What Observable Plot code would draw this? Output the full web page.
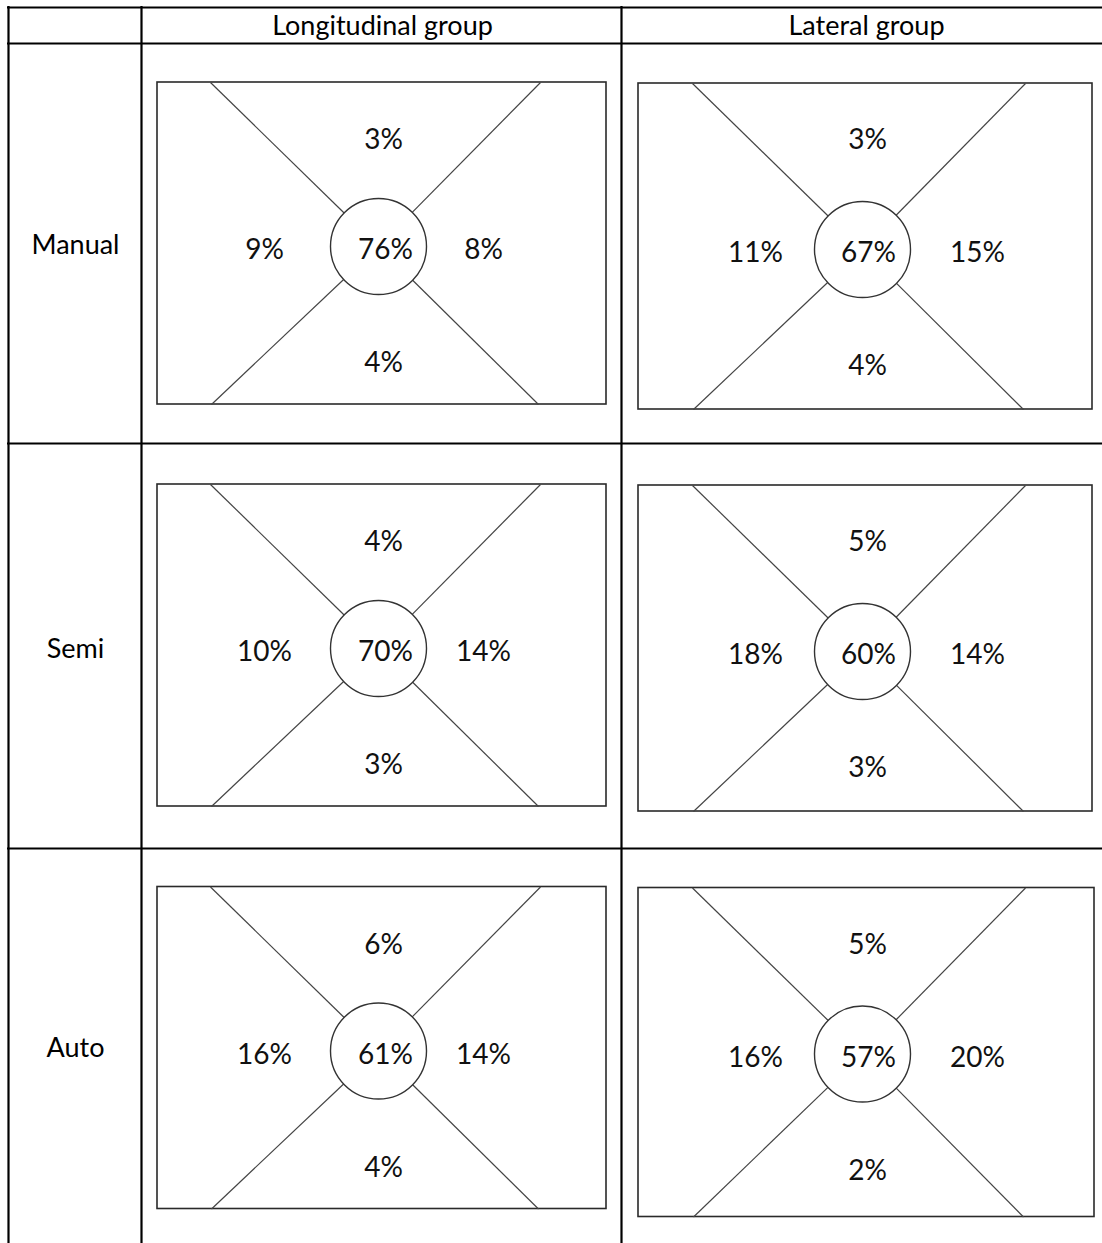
<!DOCTYPE html>
<html>
<head>
<meta charset="utf-8">
<script src="https://cdn.jsdelivr.net/npm/d3@7"></script>
<script src="https://cdn.jsdelivr.net/npm/@observablehq/plot@0.6"></script>
<style>
  html, body { margin: 0; padding: 0; background: #fff; }
  #chart svg { display: block; }
</style>
</head>
<body>
<div id="chart"></div>
<script>
// ---- data ----
const rows = ["Manual", "Semi", "Auto"];
const groups = ["Longitudinal group", "Lateral group"];
const positions = ["top", "left", "center", "right", "bottom"];

const longTop    = [3, 4, 6];
const longLeft   = [9, 10, 16];
const longCenter = [76, 70, 61];
const longRight  = [8, 14, 14];
const longBottom = [4, 3, 4];

const latTop    = [3, 5, 5];
const latLeft   = [11, 18, 16];
const latCenter = [67, 60, 57];
const latRight  = [15, 14, 20];
const latBottom = [4, 3, 2];

// ---- layout (pixels) ----
const W = 1102, H = 1243;
const tableLeft = 8, colSplit1 = 141, colSplit2 = 621;
const tableTop = 7, headerBottom = 43;
const rowLines = [443, 848];
const rowTops = [0, 402, 804.5];

const panelLayout = [
  { // longitudinal
    x0: 157, x1: [606, 606, 606], y0: 82, h: [322, 322, 322], cx: 378, cy: 246,
    corners: [[210, 0], [540, 0], [211, 1], [538, 1]],
    text: { top: [383, 58], left: [264, 168], center: [385, 168], right: [483, 168], bottom: [383, 281] },
    values: { top: longTop, left: longLeft, center: longCenter, right: longRight, bottom: longBottom }
  },
  { // lateral
    x0: 638, x1: [1092, 1092, 1094], y0: 83, h: [326, 326, 329], cx: 862, cy: 249,
    corners: [[692, 0], [1025, 0], [693, 1], [1023, 1]],
    text: { top: [867, 57], left: [755, 170], center: [868, 170], right: [977, 170], bottom: [867, 283] },
    values: { top: latTop, left: latLeft, center: latCenter, right: latRight, bottom: latBottom }
  }
];
const R = 48;

// ---- build mark data ----
const boxes = [], circles = [], links = [], labels = [];
rows.forEach((row, i) => {
  panelLayout.forEach((p, j) => {
    const y0 = p.y0 + rowTops[i], y1 = y0 + p.h[i];
    const cy = p.cy + rowTops[i];
    boxes.push({ x1: p.x0, x2: p.x1[i], y1: y0, y2: y1 });
    circles.push({ x: p.cx, y: cy });
    p.corners.forEach(([cxr, side]) => {
      const ky = side === 0 ? y0 : y1;
      const dx = cxr - p.cx, dy = ky - cy, len = Math.hypot(dx, dy);
      links.push({ x1: cxr, y1: ky, x2: p.cx + R * dx / len, y2: cy + R * dy / len });
    });
    positions.forEach(pos => {
      const [tx, ty] = p.text[pos];
      labels.push({ row, group: groups[j], pos, value: p.values[pos][i], x: tx, y: y0 + ty });
    });
  });
});

const headerLabels = [
  { text: groups[0], x: 382, y: 26 },
  { text: groups[1], x: 866, y: 26 }
];
const rowLabelY = [245, 649, 1048];
const rowLabels = rows.map((r, i) => ({ text: r, x: 75, y: rowLabelY[i] }));

const hLines = [tableTop, headerBottom, ...rowLines].map(y => ({ y }));
const vLines = [tableLeft, colSplit1, colSplit2].map(x => ({ x }));

const chart = Plot.plot({
  width: W, height: H,
  margin: 0,
  x: { domain: [0, W], range: [0, W], axis: null },
  y: { domain: [0, H], range: [0, H], axis: null },
  style: { fontFamily: "Lato, 'Open Sans', sans-serif", background: "#fff" },
  marks: [
    // table grid
    Plot.ruleY(hLines, { y: "y", x1: tableLeft - 1, x2: W, stroke: "#000", strokeWidth: 2.2 }),
    Plot.ruleX(vLines, { x: "x", y1: tableTop - 1, y2: H, stroke: "#000", strokeWidth: 2.2 }),
    // panel boxes
    Plot.rect(boxes, { x1: "x1", x2: "x2", y1: "y1", y2: "y2", fill: "none", stroke: "#2a2a2a", strokeWidth: 1.6 }),
    // diagonals
    Plot.link(links, { x1: "x1", y1: "y1", x2: "x2", y2: "y2", stroke: "#444", strokeWidth: 1.2 }),
    // circles
    Plot.dot(circles, { x: "x", y: "y", r: R, fill: "none", stroke: "#333", strokeWidth: 1.4 }),
    // values
    Plot.text(labels, { x: "x", y: "y", text: d => `${d.value}%`, fontSize: 28, fill: "#111" }),
    // headers
    Plot.text(headerLabels, { x: "x", y: "y", text: "text", fontSize: 27, fill: "#000" }),
    Plot.text(rowLabels, { x: "x", y: "y", text: "text", fontSize: 27, fill: "#000" })
  ]
});
document.getElementById("chart").appendChild(chart);
</script>
</body>
</html>
